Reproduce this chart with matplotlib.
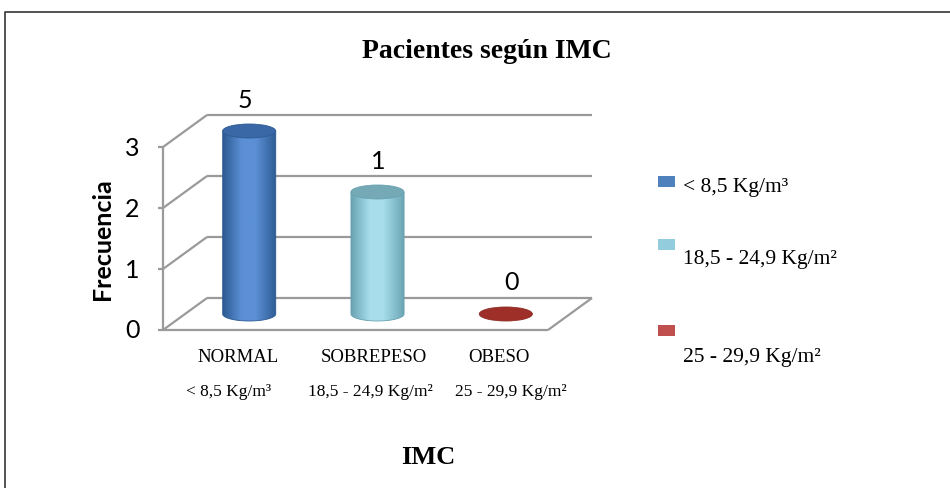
import numpy as np
import matplotlib
matplotlib.use("Agg")
import matplotlib.pyplot as plt
from matplotlib.path import Path
from matplotlib.patches import Ellipse, Rectangle, PathPatch
from matplotlib.transforms import ScaledTranslation
from matplotlib.colors import LinearSegmentedColormap
from matplotlib.lines import Line2D

# ---- data ----
categorias = ["NORMAL", "SOBREPESO", "OBESO"]
rangos = ["< 8,5 Kg/m³", "18,5 - 24,9 Kg/m²", "25 - 29,9 Kg/m²"]
frecuencia = [3, 2, 0]
pacientes = ["5", "1", "0"]
y_ticks = [0, 1, 2, 3]

# colours per series: (dark edge, light centre, top cap, legend)
colores = [
    ("#2c5a92", "#5c90d6", "#3a68a6", "#4f81bd"),
    ("#68a2b1", "#a8deec", "#74a9b5", "#93cddd"),
    ("#8e2a24", "#b0372f", "#9e2f28", "#c0504d"),
]

SERIF = "Liberation Serif"
SANS = "Lato"

W, H = 950, 489
fig = plt.figure(figsize=(W / 100, H / 100), dpi=100)
fig.patch.set_facecolor("white")


def fx(px):
    return px / W


def fy(py):
    return 1 - py / H


def shift(dx_px, dy_px):
    return ScaledTranslation(dx_px / 100, dy_px / 100, fig.dpi_scale_trans)


# front plane of the plot area
left, right, bottom, top = 163, 548, 331, 148
ax = fig.add_axes([fx(left), fy(bottom), fx(right - left), (bottom - top) / H])
ax.set_xlim(-0.5, len(categorias) - 0.5)
ax.set_ylim(0, 3)
ax.axis("off")

DEPTH_X, DEPTH_Y = 44, 32  # back-wall offset in pixels
back = ax.transData + shift(DEPTH_X, DEPTH_Y)
mid = ax.transData + shift(DEPTH_X / 2, DEPTH_Y / 2)

grid_kw = dict(color="#9a9a9a", lw=1.6, solid_capstyle="butt", clip_on=False)
x0, x1 = -0.5, len(categorias) - 0.5

# back-wall gridlines and left-side diagonals
for v in y_ticks:
    ax.add_line(Line2D([x0, x1], [v, v], transform=back, **grid_kw))
    p_front = ax.transData.transform((x0, v))
    p_back = back.transform((x0, v))
    ax.add_line(Line2D([p_front[0], p_back[0]], [p_front[1], p_back[1]],
                       transform=None, **grid_kw))
    # tick mark and tick label
    ax.add_line(Line2D([p_front[0] - 5, p_front[0]], [p_front[1], p_front[1]],
                       transform=None, **grid_kw))
    ax.text(x0, v, str(v), transform=ax.transData + shift(-31, 0),
            ha="center", va="center", fontsize=18, family=SANS, clip_on=False)

# front-left vertical axis, floor front edge and floor right diagonal
ax.add_line(Line2D([x0, x0], [0, 3], transform=ax.transData, **grid_kw))
ax.add_line(Line2D([x0, x1], [0, 0], transform=ax.transData, **grid_kw))
pf = ax.transData.transform((x1, 0))
pb = back.transform((x1, 0))
ax.add_line(Line2D([pf[0], pb[0]], [pf[1], pb[1]], transform=None, **grid_kw))

# label nudges (pixels) for the two-line category captions
cat_dx = [-11, -4, -7]
rango_dx = [-21, -7, 5]

# cylinders
HW = 0.207         # half width in data units
EH = 7 / 61.0      # ellipse half height in data units
theta = np.linspace(np.pi, 2 * np.pi, 60)
for i, (v, col) in enumerate(zip(frecuencia, colores)):
    dark, light, cap, _ = col
    c = i
    if v > 0:
        xs = np.concatenate([[c - HW, c - HW], c + HW * np.cos(theta), [c + HW]])
        ys = np.concatenate([[v, 0], EH * np.sin(theta), [v]])
        body = Path(np.column_stack([xs, ys]))
        cmap = LinearSegmentedColormap.from_list(
            f"cyl{i}", [(0, dark), (0.35, light), (0.6, light), (1, dark)])
        grad = np.linspace(0, 1, 256)[None, :]
        im = ax.imshow(grad, cmap=cmap, aspect="auto",
                       extent=(c - HW, c + HW, -EH, v), transform=mid,
                       interpolation="bilinear", zorder=2)
        im.set_clip_box(fig.bbox)
        im.set_clip_path(PathPatch(body, transform=mid, visible=False))
        ax.add_patch(PathPatch(body, transform=mid, fill=False, ec=dark, lw=0.6,
                               zorder=2.1, clip_on=False))
    ax.add_patch(Ellipse((c, v), 2 * HW, 2 * EH, transform=mid, fc=cap,
                         ec=dark, lw=0.6, zorder=3, clip_on=False))
    # value label above each cylinder
    ax.text(c, v, pacientes[i], transform=mid + shift(-4 + 5 * i, 32),
            ha="center", va="center", fontsize=18, family=SANS, clip_on=False)
    # category captions below the floor
    ax.text(c, 0, categorias[i], transform=mid + shift(cat_dx[i], -43),
            ha="center", va="center", fontsize=13.5, family=SERIF, clip_on=False)
    ax.text(c, 0, rangos[i], transform=mid + shift(rango_dx[i], -77),
            ha="center", va="center", fontsize=12.5, family=SERIF, clip_on=False)

ax.set_xlim(-0.5, len(categorias) - 0.5)
ax.set_ylim(0, 3)

# titles
fig.text(fx(487), fy(52), "Pacientes según IMC", ha="center", va="center",
         fontsize=20, fontweight="bold", family=SERIF)
fig.text(fx(428), fy(458), "IMC", ha="center", va="center",
         fontsize=19, fontweight="bold", family=SERIF)
fig.text(fx(103), fy(239), "Frecuencia", ha="center", va="center", rotation=90,
         fontsize=18, fontweight="bold", family=SANS)

# legend
leg_sq = [177, 240, 326]
leg_txt = [188, 260, 358]
for (sq_y, t_y, lab, col) in zip(leg_sq, leg_txt, rangos, colores):
    fig.add_artist(Rectangle((fx(658), fy(sq_y + 11)), 17 / W, 11 / H,
                             transform=fig.transFigure, fc=col[3], ec="none"))
    fig.text(fx(683), fy(t_y), lab, ha="left", va="center", fontsize=15.5, family=SERIF)

# chart frame
fig.add_artist(Line2D([fx(5), fx(5), fx(W + 5)], [0 - 0.01, fy(13), fy(13)],
                      transform=fig.transFigure, color="#444444", lw=1.3))

fig.savefig("out.png", dpi=100)
